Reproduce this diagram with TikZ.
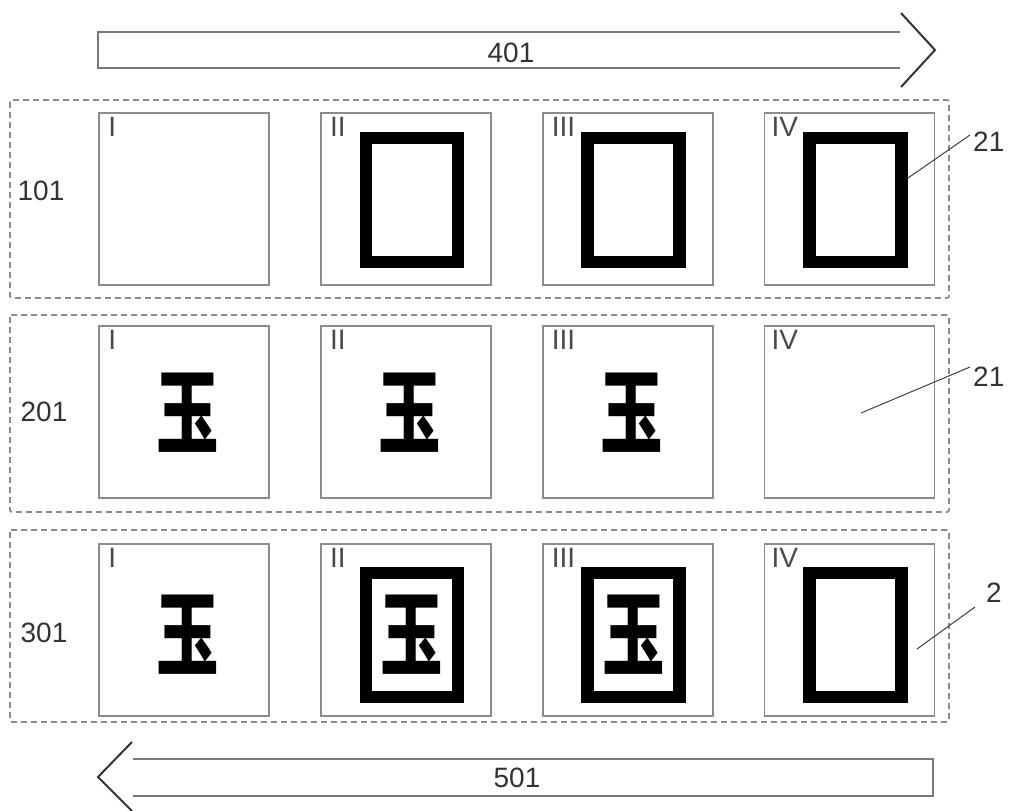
\documentclass[tikz,border=0pt]{standalone}
\usepackage{fontspec}
\setmainfont{Liberation Sans}
\newfontfamily\cjk{Noto Sans CJK SC}
\usetikzlibrary{positioning}
\definecolor{boxgray}{HTML}{8C8C8C}
\definecolor{arrgray}{HTML}{7A7A7A}
\definecolor{numgray}{HTML}{4A4A4A}

\tikzset{
  panel/.style={draw=boxgray, line width=1.8pt, minimum width=170pt, minimum height=172pt, inner sep=0pt},
  rowbox/.style={draw=boxgray, line width=1.8pt, dash pattern=on 6pt off 4pt, rounded corners=2pt},
  frame/.style={draw=black, line width=12.5pt, minimum width=92pt, minimum height=124pt, inner sep=0pt},
  numeral/.style={text=numgray, inner sep=0pt, anchor=north west},
  glyph/.style={font=\cjk\bfseries\fontsize{92}{92}\selectfont, text=black, inner sep=0pt, xscale=0.68},
  leader/.style={draw=black!75, line width=1pt},
  arrbody/.style={draw=arrgray, line width=2.2pt},
  chev/.style={draw=black!80, line width=2pt}
}

\begin{document}
\begin{tikzpicture}[x=1pt, y=-1pt, node distance=50pt, every node/.style={font=\fontsize{28}{30}\selectfont, text=black!80}]
\useasboundingbox (0,0) rectangle (1015,811);

% direction arrows
\draw[arrbody] (900,32) -- (98,32) -- (98,68) -- (900,68);
\draw[chev] (901,13) -- (935,50) -- (901,87);
\node (t401) at (511,53) {401};
\draw[arrbody] (133,759) -- (933,759) -- (933,796) -- (133,796);
\draw[chev] (132,742) -- (98,777) -- (132,811);
\node (t501) at (517,778) {501};

% row frames
\draw[rowbox] (10,100) rectangle (949,298);
\draw[rowbox] (10,315) rectangle (949,512);
\draw[rowbox] (10,530) rectangle (949,722);
\node (t101) at (41,191) {101};
\node (t201) at (44,412) {201};
\node (t301) at (44,633) {301};

% row 101
\node (pA1) [panel] at (184,199) {};
\node (pA2) [panel, right=of pA1] {};
\node (pA3) [panel, right=of pA2] {};
\node (pA4) [panel, right=of pA3] {};
\node (fA2) [frame] at ([shift={(6pt,-1pt)}]pA2.center) {};
\node (fA3) [frame] at ([shift={(6pt,-1pt)}]pA3.center) {};
\node (fA4) [frame] at ([shift={(6pt,-1pt)}]pA4.center) {};

% row 201
\node (pB1) [panel] at (184,412) {};
\node (pB2) [panel, right=of pB1] {};
\node (pB3) [panel, right=of pB2] {};
\node (pB4) [panel, right=of pB3] {};
\node (gB1) [glyph] at ([shift={(4pt,-1pt)}]pB1.center) {玉};
\node (gB2) [glyph] at ([shift={(4pt,-1pt)}]pB2.center) {玉};
\node (gB3) [glyph] at ([shift={(4pt,-1pt)}]pB3.center) {玉};

% row 301
\node (pC1) [panel] at (184,630) {};
\node (pC2) [panel, right=of pC1] {};
\node (pC3) [panel, right=of pC2] {};
\node (pC4) [panel, right=of pC3] {};
\node (gC1) [glyph] at ([shift={(4pt,-5pt)}]pC1.center) {玉};
\node (fC2) [frame] at ([shift={(6pt,-5pt)}]pC2.center) {};
\node (fC3) [frame] at ([shift={(6pt,-5pt)}]pC3.center) {};
\node (fC4) [frame] at ([shift={(6pt,-5pt)}]pC4.center) {};
\node (gC2) [glyph] at (fC2.center) {玉};
\node (gC3) [glyph] at (fC3.center) {玉};

% step numerals
\node (nA1) [numeral] at ([shift={(10pt,-5pt)}]pA1.north west) {I};
\node (nA2) [numeral] at ([shift={(10pt,-5pt)}]pA2.north west) {II};
\node (nA3) [numeral] at ([shift={(10pt,-5pt)}]pA3.north west) {III};
\node (nA4) [numeral] at ([shift={(8pt,-5pt)}]pA4.north west) {IV};
\node (nB1) [numeral] at ([shift={(10pt,-5pt)}]pB1.north west) {I};
\node (nB2) [numeral] at ([shift={(10pt,-5pt)}]pB2.north west) {II};
\node (nB3) [numeral] at ([shift={(10pt,-5pt)}]pB3.north west) {III};
\node (nB4) [numeral] at ([shift={(8pt,-5pt)}]pB4.north west) {IV};
\node (nC1) [numeral] at ([shift={(10pt,-5pt)}]pC1.north west) {I};
\node (nC2) [numeral] at ([shift={(10pt,-5pt)}]pC2.north west) {II};
\node (nC3) [numeral] at ([shift={(10pt,-5pt)}]pC3.north west) {III};
\node (nC4) [numeral] at ([shift={(8pt,-5pt)}]pC4.north west) {IV};

% reference numerals
\node (l21a) [inner sep=1pt, anchor=north west] at (972,131) {21};
\node (l21b) [inner sep=1pt, anchor=north west] at (972,366) {21};
\node (l2) [inner sep=1pt, anchor=south west] at (985,604) {2};
\coordinate (p21a) at (908,178);
\coordinate (p21b) at (861,413);
\coordinate (p2) at (917,649);
\draw[leader] (p21a) -- ([shift={(-2pt,-4pt)}]l21a.north west);
\draw[leader] (p21b) -- ([shift={(-2pt,-1pt)}]l21b.north west);
\draw[leader] (p2) -- ([shift={(-10pt,-3pt)}]l2.south west);
\end{tikzpicture}
\end{document}
